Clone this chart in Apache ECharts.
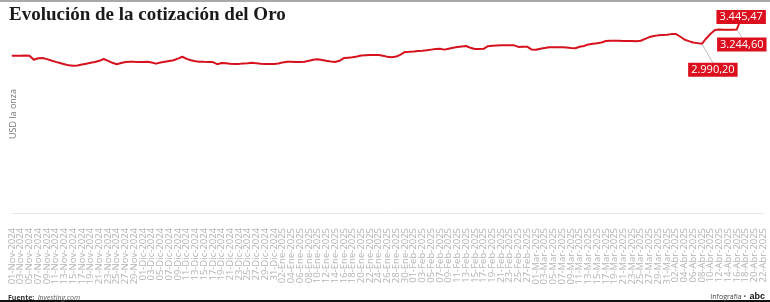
<!DOCTYPE html>
<html>
<head>
<meta charset="utf-8">
<script src="https://cdn.jsdelivr.net/npm/echarts@6/dist/echarts.min.js"></script>
<style>
  html, body { margin: 0; padding: 0; background: #fff; }
  #chart { width: 770px; height: 302px; }
</style>
</head>
<body>
<div id="chart"></div>
<script>
// meses del eje: nombre, días mostrados, año
const meses = [['Nov', 30, 2024], ['Dic', 31, 2024], ['Ene', 31, 2025], ['Feb', 28, 2025], ['Mar', 31, 2025], ['Abr', 22, 2025]]

const fechas = []
meses.forEach(([m, dias, anio]) => {
  for (let d = 1; d <= dias; d++) fechas.push(String(d).padStart(2, '0') + '-' + m + '-' + anio)
})

// cotización diaria (USD la onza); sin datos tras el 17-Abr
const cotizacion = [
  2781, 2781, 2780, 2782, 2781, 2708, 2735, 2740, 2720, 2695,
  2672, 2650, 2630, 2610, 2603, 2606, 2625, 2640, 2655, 2668,
  2690, 2722, 2690, 2655, 2630, 2650, 2668, 2675, 2672, 2670,
  2668, 2672, 2660, 2640, 2660, 2675, 2688, 2700, 2730, 2762,
  2725, 2700, 2682, 2675, 2672, 2670, 2668, 2630, 2650, 2645,
  2638, 2634, 2636, 2642, 2648, 2656, 2645, 2638, 2636, 2634,
  2634, 2642, 2662, 2674, 2672, 2670, 2670, 2675, 2692, 2708,
  2717, 2705, 2690, 2678, 2670, 2690, 2738, 2745, 2752, 2768,
  2785, 2790, 2792, 2793, 2793, 2780, 2760, 2753, 2765, 2800,
  2848, 2851, 2856, 2864, 2868, 2876, 2888, 2898, 2905, 2888,
  2905, 2922, 2935, 2945, 2952, 2920, 2900, 2900, 2902, 2948,
  2955, 2962, 2965, 2966, 2965, 2964, 2936, 2938, 2940, 2888,
  2885, 2905, 2918, 2930, 2932, 2930, 2930, 2925, 2915, 2912,
  2938, 2952, 2980, 2992, 3002, 3015, 3040, 3046, 3046, 3044,
  3042, 3041, 3040, 3036, 3045, 3078, 3110, 3128, 3140, 3146,
  3152, 3162, 3165, 3120, 3066, 3038, 3015, 3003, 2990.20, 3085,
  3170, 3236, 3242, 3240, 3238, 3240, 3244.60, 3445.47,
  null, null, null, null, null
]

// puntos destacados (índice del día)
const destacados = [158, 166, 167]

// desplazamiento de cada etiqueta respecto de su punto
const desplaza = { 158: [11, 26], 166: [5, 15], 167: [0, -1] }

function fmt(v) {
  const [ent, dec] = v.toFixed(2).split('.')
  return ent.replace(/\B(?=(\d{3})+(?!\d))/g, '.') + ',' + dec
}

const serie = cotizacion.map((v, i) => {
  if (!destacados.includes(i)) return v
  return {
    value: v,
    label: { show: true },
    labelLine: { show: i !== 167 }
  }
})

const chart = echarts.init(document.getElementById('chart'))

chart.setOption({
  backgroundColor: '#fff',
  animation: false,
  title: {
    text: 'Evolución de la cotización del Oro',
    left: 4,
    top: 1,
    textStyle: { fontFamily: 'Liberation Serif', fontWeight: 'bold', fontSize: 19, color: '#1a1a1a' }
  },
  grid: { left: 12, right: 7, top: 15, bottom: 89, outerBoundsMode: 'none' },
  xAxis: {
    type: 'category',
    boundaryGap: false,
    data: fechas,
    axisLine: { lineStyle: { color: '#e8e8e8' } },
    axisTick: { show: false },
    axisLabel: {
      interval: 0,
      showMinLabel: true,
      showMaxLabel: true,
      hideOverlap: false,
      formatter: (val, idx) => (idx % 2 === 0 ? val : ''),
      rotate: 90,
      margin: 15,
      fontSize: 9.5,
      color: '#b3b3b3',
      fontFamily: 'Open Sans'
    }
  },
  yAxis: {
    type: 'value',
    min: 0,
    max: 3500,
    name: 'USD la onza',
    nameLocation: 'middle',
    nameGap: -6,
    nameMoveOverlap: false,
    nameTextStyle: { color: '#777', fontSize: 9, fontFamily: 'Open Sans' },
    axisLine: { show: false },
    axisTick: { show: false },
    axisLabel: { show: false },
    splitLine: { show: false }
  },
  series: [{
    type: 'line',
    data: serie,
    showSymbol: true,
    showAllSymbol: true,
    symbol: 'circle',
    symbolSize: 1,
    itemStyle: { color: '#d7121f' },
    lineStyle: { color: '#d7121f', width: 2 },
    label: {
      show: false,
      position: 'inside',
      formatter: p => fmt(p.value),
      color: '#fff',
      fontSize: 11,
      fontFamily: 'Open Sans',
      backgroundColor: '#dc0f1f',
      padding: [2, 3, 1, 3]
    },
    labelLine: { show: false, lineStyle: { color: '#bdbdbd', width: 1 } },
    labelLayout: p => {
      const d = desplaza[p.dataIndex]
      return d ? { dx: d[0], dy: d[1] } : {}
    },
    emphasis: { disabled: true }
  }],
  graphic: [
    { type: 'rect', left: 0, top: 0, shape: { width: 770, height: 2 }, style: { fill: '#a9a9a9' } },
    { type: 'rect', left: 0, top: 300, shape: { width: 770, height: 2 }, style: { fill: '#111' } },
    {
      type: 'text', left: 8, top: 292,
      style: {
        text: '{b|Fuente:} {i|Investing.com}',
        rich: {
          b: { fontFamily: 'Open Sans', fontSize: 7, fontWeight: 'bold', fill: '#333' },
          i: { fontFamily: 'Open Sans', fontSize: 7, fontStyle: 'italic', fill: '#555' }
        }
      }
    },
    {
      type: 'text', right: 5, top: 291,
      style: {
        text: '{n|Infografía •} {l|abc}',
        rich: {
          n: { fontFamily: 'Open Sans', fontSize: 7, fill: '#444' },
          l: { fontFamily: 'Liberation Sans', fontSize: 9, fontWeight: 'bold', fill: '#111' }
        }
      }
    }
  ]
})
</script>
</body>
</html>
